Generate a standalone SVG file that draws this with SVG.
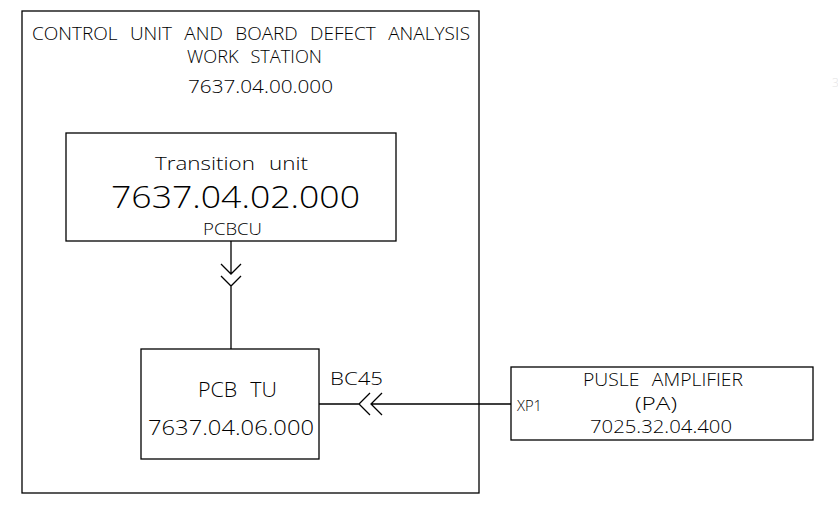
<svg xmlns="http://www.w3.org/2000/svg" width="838" height="511" viewBox="0 0 838 511">
<style>
.box{fill:none;stroke:#000;stroke-width:1.3}
.ln{fill:none;stroke:#000;stroke-width:1.3}
text{font-family:"Open Sans","Liberation Sans",Arial,sans-serif;font-weight:300;fill:#000}
.ws{word-spacing:7px}
</style>
<rect width="838" height="511" fill="#fff"/>
<g id="workstation">
<rect class="box" x="22" y="11" width="457" height="482"/>
<text class="ws" x="32" y="40" font-size="18" textLength="438" lengthAdjust="spacingAndGlyphs">CONTROL UNIT AND BOARD DEFECT ANALYSIS</text>
<text class="ws" x="187" y="63" font-size="18" textLength="135" lengthAdjust="spacingAndGlyphs">WORK STATION</text>
<text x="188" y="93" font-size="18" textLength="145" lengthAdjust="spacingAndGlyphs">7637.04.00.000</text>
</g>
<g id="transition-unit">
<rect class="box" x="66" y="133" width="330" height="108"/>
<text class="ws" x="155" y="170" font-size="19" textLength="153" lengthAdjust="spacingAndGlyphs">Transition unit</text>
<text x="111" y="208" font-size="32" textLength="249" lengthAdjust="spacingAndGlyphs">7637.04.02.000</text>
<text x="203" y="235" font-size="16" textLength="59" lengthAdjust="spacingAndGlyphs">PCBCU</text>
</g>
<g id="pcb-tu">
<rect class="box" x="141" y="349" width="178" height="110"/>
<text class="ws" x="198" y="397" font-size="20" textLength="79" lengthAdjust="spacingAndGlyphs">PCB TU</text>
<text x="148" y="435" font-size="20" textLength="166" lengthAdjust="spacingAndGlyphs">7637.04.06.000</text>
</g>
<g id="pulse-amplifier">
<rect class="box" x="511" y="367" width="302" height="73"/>
<text class="ws" x="583" y="386" font-size="18" textLength="160" lengthAdjust="spacingAndGlyphs">PUSLE AMPLIFIER</text>
<text x="635" y="410" font-size="18" textLength="42" lengthAdjust="spacingAndGlyphs">(PA)</text>
<text x="590" y="433" font-size="18" textLength="142" lengthAdjust="spacingAndGlyphs">7025.32.04.400</text>
<text x="517" y="411" font-size="14" textLength="25" lengthAdjust="spacingAndGlyphs">XP1</text>
</g>
<g id="connectors">
<path class="ln" d="M231 241V274M231 286V349M221 264L231 274L241 264M221 276L231 286L241 276"/>
<path class="ln" d="M319 404H359M371 404H511M370 393L359 404L370 415M382 393L371 404L382 415"/>
<text x="330" y="385" font-size="18" textLength="53" lengthAdjust="spacingAndGlyphs">BC45</text>
</g>
<text x="832" y="87" font-size="12" style="fill:#e4e4e4">3</text>
</svg>
